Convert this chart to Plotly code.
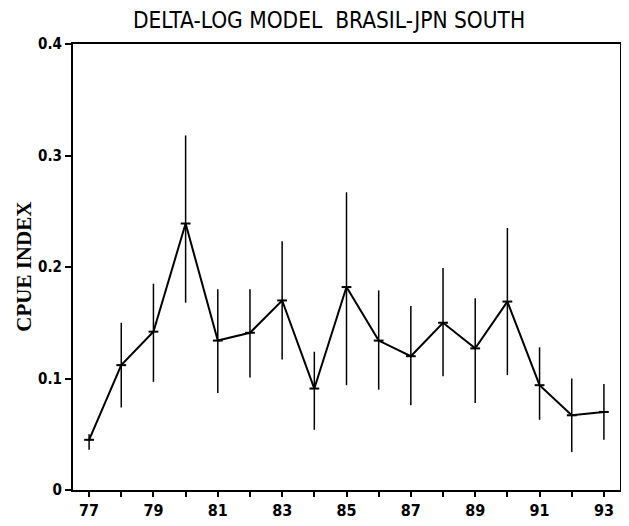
import plotly.graph_objects as go

# CPUE index by year (delta-log model, Brasil-JPN south)
years = [77, 78, 79, 80, 81, 82, 83, 84, 85, 86, 87, 88, 89, 90, 91, 92, 93]
cpue = [0.045, 0.112, 0.142, 0.239, 0.134, 0.141, 0.170, 0.091, 0.182,
        0.134, 0.120, 0.150, 0.127, 0.169, 0.094, 0.067, 0.070]
upper = [0.050, 0.150, 0.185, 0.318, 0.180, 0.180, 0.223, 0.124, 0.267,
         0.179, 0.165, 0.199, 0.172, 0.235, 0.128, 0.100, 0.095]
lower = [0.036, 0.074, 0.097, 0.168, 0.087, 0.101, 0.117, 0.054, 0.094,
         0.090, 0.076, 0.102, 0.078, 0.103, 0.063, 0.034, 0.045]

x_labels = [str(y) if y % 2 == 1 else "" for y in years]
y_ticks = [0, 0.1, 0.2, 0.3, 0.4]
y_labels = ["0", "0.1", "0.2", "0.3", "0.4"]

err_plus = [u - c for u, c in zip(upper, cpue)]
err_minus = [c - l for c, l in zip(cpue, lower)]

font_fam = "DejaVu Sans Condensed, DejaVu Sans"

fig = go.Figure(go.Scatter(
    x=years, y=cpue,
    mode="lines+markers",
    line=dict(color="black", width=2),
    marker=dict(symbol="line-ew", size=7, line=dict(color="black", width=2)),
    error_y=dict(type="data", symmetric=False, array=err_plus,
                 arrayminus=err_minus, color="black", thickness=1.5, width=0),
))

# page body has an 8px margin, so the figure is a bit smaller than the window
fig.update_layout(
    width=621, height=518,
    margin=dict(l=65, r=9, t=36, b=36),
    paper_bgcolor="white", plot_bgcolor="white",
    showlegend=False,
    title=dict(text="DELTA-LOG MODEL  BRASIL-JPN SOUTH",
               x=0.517, xanchor="center", y=0.977, yanchor="middle",
               font=dict(family=font_fam, size=22.5, color="black")),
    font=dict(family=font_fam, color="black"),
)
fig.add_annotation(
    text="<b>CPUE INDEX</b>", textangle=-90,
    xref="paper", yref="paper", x=-0.09, y=0.5,
    xanchor="center", yanchor="middle", showarrow=False,
    font=dict(family="Liberation Serif", size=21, color="black"),
)
fig.update_xaxes(
    range=[76.5, 93.5], tickvals=years, ticktext=x_labels,
    ticks="outside", ticklen=5, tickwidth=1.5, tickcolor="black",
    showline=True, linecolor="black", linewidth=2, mirror=True,
    showgrid=False, zeroline=False, automargin=False,
    tickfont=dict(size=16, family=font_fam, weight="bold"),
)
fig.update_yaxes(
    range=[0, 0.4], tickvals=y_ticks, ticktext=y_labels,
    ticks="outside", ticklen=6, tickwidth=1.5, tickcolor="black",
    showline=True, linecolor="black", linewidth=2, mirror=True,
    showgrid=False, zeroline=False, automargin=False,
    tickfont=dict(size=15, family=font_fam, weight="bold"),
)

fig.write_html("out.html")
